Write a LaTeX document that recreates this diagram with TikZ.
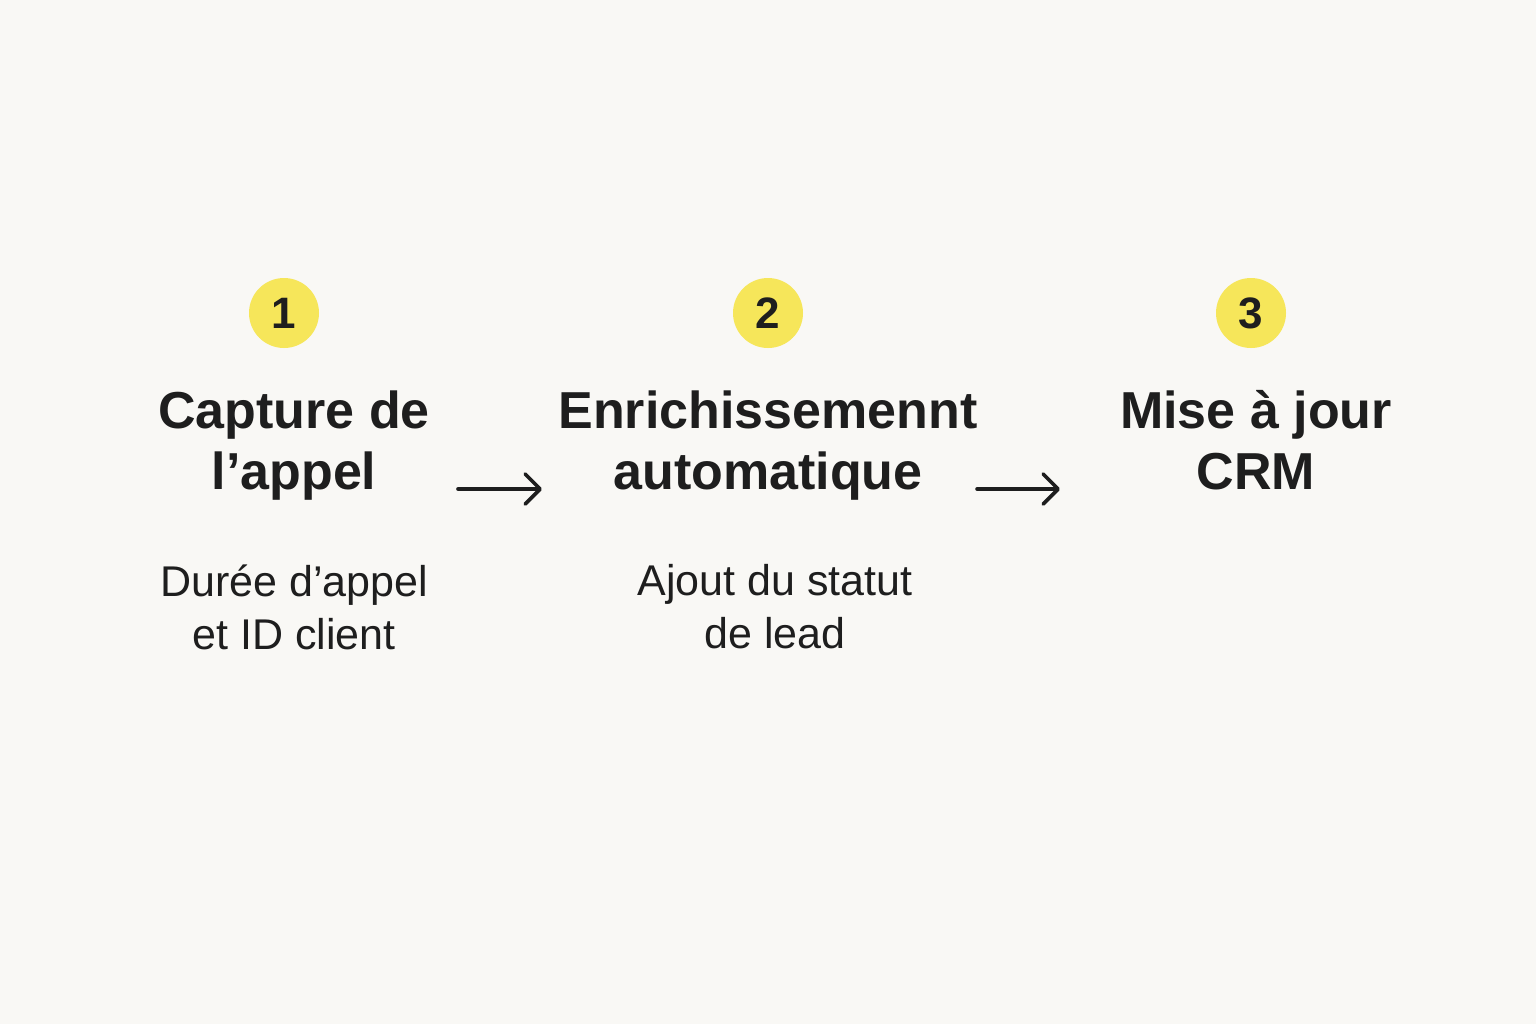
\documentclass[tikz,border=0pt]{standalone}
\usepackage{fontspec}
\setmainfont{Liberation Sans}
\usetikzlibrary{positioning}
\usetikzlibrary{arrows.meta}
\definecolor{bg}{HTML}{F9F8F5}
\definecolor{badge}{HTML}{F6E65A}
\definecolor{ink}{HTML}{1E1E1E}

\begin{document}
\begin{tikzpicture}[x=0.5pt,y=-0.5pt,
num/.style={circle,fill=badge,minimum size=35pt,inner sep=0pt,text=ink,
font=\bfseries\fontsize{22}{22}\selectfont},
title/.style={align=center,anchor=north,inner sep=0pt,text=ink,
font=\bfseries\fontsize{26}{30.5}\selectfont},
note/.style={align=center,anchor=north,inner sep=0pt,text=ink,
font=\fontsize{21.5}{26.5}\selectfont},
flow/.style={draw=ink,line width=1.8pt,line cap=round,
-{Straight Barb[length=7.5pt,width=15pt,round]}}]
\fill[bg] (0,0) rectangle (1536,1024);
\useasboundingbox (0,0) rectangle (1536,1024);
% badges
\node[num] (n1) at (284,313) {1};
\node[num] (n2) at (768,313) {2};
\node[num] (n3) at (1251,313) {3};
% step titles
\node[title] (t1) at (294,390) {Capture de\\l’appel};
\node[title] (t2) at (768,390) {Enrichissemennt\\automatique};
\node[title] (t3) at (1256,390) {Mise à jour\\CRM};
% details
\node[note] (s1) at (294,564) {Durée d’appel\\et ID client};
\node[note] (s2) at (775,564) {Ajout du statut\\de lead};
% arrows
\coordinate (a1) at (458,489);
\coordinate (b1) at (542,489);
\coordinate (a2) at (977,489);
\coordinate (b2) at (1060,489);
\draw[flow] (a1) -- (b1);
\draw[flow] (a2) -- (b2);
\end{tikzpicture}
\end{document}
